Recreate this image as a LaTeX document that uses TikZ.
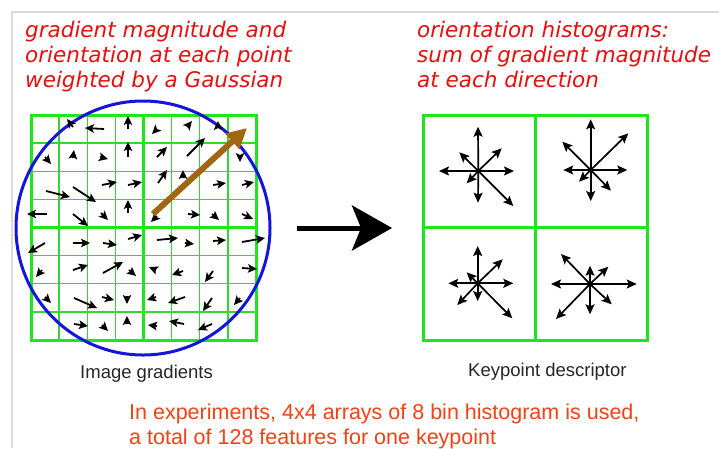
\documentclass[tikz,border=0pt]{standalone}
\usepackage{fontspec}
\setmainfont{Liberation Sans}
\newfontfamily\handfont{DejaVu Sans}
\usetikzlibrary{arrows.meta}
\definecolor{hred}{RGB}{230,15,15}
\definecolor{ored}{RGB}{242,66,22}
\definecolor{gthick}{RGB}{30,230,30}
\definecolor{gthin}{RGB}{50,215,50}
\definecolor{cblue}{RGB}{20,20,220}
\definecolor{brownarrow}{RGB}{160,102,18}
\definecolor{framegrey}{RGB}{218,218,218}
\tikzset{
  grad/.style={black,line width=1.8pt,-{Stealth[length=9pt,width=8.5pt,inset=2pt]}},
  hist/.style={black,line width=1.7pt,-{Stealth[length=10pt,width=9pt,inset=2pt]}},
  handtext/.style={anchor=base west,inner sep=0pt,text=hred,font=\handfont\itshape\fontsize{21.5}{21.5}\selectfont},
  captext/.style={anchor=base west,inner sep=0pt,text=black!85,font=\fontsize{18.5}{18.5}\selectfont},
  notetext/.style={anchor=base west,inner sep=0pt,text=ored,font=\fontsize{21.5}{21.5}\selectfont},
}
\begin{document}
\begin{tikzpicture}[x=1pt,y=-1pt]
\useasboundingbox[fill=white] (0,0) rectangle (719,448);
% frame
\draw[framegrey,line width=1.5pt] (12,448) -- (12,12) -- (719,12);
% top texts
\node[handtext] (t1) at (25,37) {gradient magnitude and};
\node[handtext] (t2) at (25,62) {orientation at each point};
\node[handtext] (t3) at (25,87) {weighted by a Gaussian};
\node[handtext] (r1) at (417,37) {orientation histograms:};
\node[handtext] (r2) at (417,62) {sum of gradient magnitude};
\node[handtext] (r3) at (417,87) {at each direction};
% left grid
\foreach \i in {1,2,3,5,6,7}{
  \draw[gthin,line width=1.3pt] ({31+28.125*\i},115) -- ({31+28.125*\i},340);
  \draw[gthin,line width=1.3pt] (31,{115+28.125*\i}) -- (256,{115+28.125*\i});
}
\draw[gthick,line width=3pt] (31,115) rectangle (256,340);
\draw[gthick,line width=3pt] (143.5,115) -- (143.5,340) (31,227.5) -- (256,227.5);
% circle
\draw[cblue,line width=3pt] (143,228) circle (127);
% gradient arrows
\foreach \a/\b/\c/\d in {
 73/127/67/119, 104/129/85/128, 128/129/128/116, 157/129/152/134, 187/127/192/121, 218/128/218/121,
 45/157/51/164, 73/158/74/150, 100/157/108/159, 128/157/128/142, 157/157/167/147, 187/156/205/138, 240/155/240/162,
 46/191/70/197, 73/187/96/202, 102/185/117/182, 128/185/142/182, 158/183/167/170, 183/178/183/170, 213/185/226/183, 242/185/254/182,
 47/214/27/214, 73/214/88/226, 101/213/108/220, 128/213/128/200, 157/216/151/222, 188/214/200/215, 212/214/219/220, 242/214/253/219,
 45/243/28/253, 73/243/90/243, 103/243/117/245, 128/239/142/235, 157/240/178/238, 185/243/194/244, 213/241/226/240, 242/242/265/238,
 42/270/36/277, 73/270/88/265, 103/273/123/262, 129/270/136/276, 156/270/149/267, 183/271/172/275, 213/271/205/282, 242/268/257/269,
 45/297/51/303, 74/298/97/308, 102/297/114/300, 127/296/127/304, 156/297/147/300, 185/297/168/303, 212/298/203/311, 240/298/234/305,
 74/324/88/326, 102/325/108/331, 127/324/127/316, 157/326/148/325, 184/324/169/321, 212/324/198/330}
 {\draw[grad] (\a,\b) -- (\c,\d);}
% brown arrow
\coordinate (bs) at (153,214);
\coordinate (be) at (247,128);
\draw[brownarrow,line width=6pt,-{Triangle[length=20pt,width=20pt]}] (bs) -- (be);
% big black arrow
\coordinate (as) at (297,228);
\coordinate (ae) at (392,228);
\draw[black,line width=5pt,-{Stealth[length=40pt,width=45pt,inset=9pt]}] (as) -- (ae);
% right grid
\draw[gthick,line width=3pt] (423,115) rectangle (647,340);
\draw[gthick,line width=3pt] (535,115) -- (535,340) (423,227.5) -- (647,227.5);
% histograms
\coordinate (h1) at (478.3,171);
\foreach \x/\y in {478/126.7, 514/171, 439/171, 478/202.7, 501.7/148.3, 459.3/152.3, 466.7/183.3, 513.3/206}
  {\draw[hist] (h1) -- (\x,\y);}
\coordinate (h2) at (590.7,170);
\foreach \x/\y in {590.7/119.3, 590.7/201, 627.3/170, 563.3/170, 628.3/133.3, 562.3/141.7, 579/181.7, 611/190.7}
  {\draw[hist] (h2) -- (\x,\y);}
\coordinate (h3) at (477.7,283.3);
\foreach \x/\y in {477.7/246, 477.7/301, 513.3/283.3, 448.3/283.3, 502.7/259.3, 466.7/272.3, 457.3/305, 512.3/318.3}
  {\draw[hist] (h3) -- (\x,\y);}
\coordinate (h4) at (590,284);
\foreach \x/\y in {590/265.7, 590/314.3, 636.7/284, 551/284, 608.3/266.7, 561/254, 556/319, 611.7/304.3}
  {\draw[hist] (h4) -- (\x,\y);}
% captions
\node[captext] (c1) at (80,378) {Image gradients};
\node[captext] (c2) at (468,376) {Keypoint descriptor};
\node[notetext] (n1) at (129,419) {In experiments, 4x4 arrays of 8 bin histogram is used,};
\node[notetext] (n2) at (129,444) {a total of 128 features for one keypoint};
\end{tikzpicture}
\end{document}
